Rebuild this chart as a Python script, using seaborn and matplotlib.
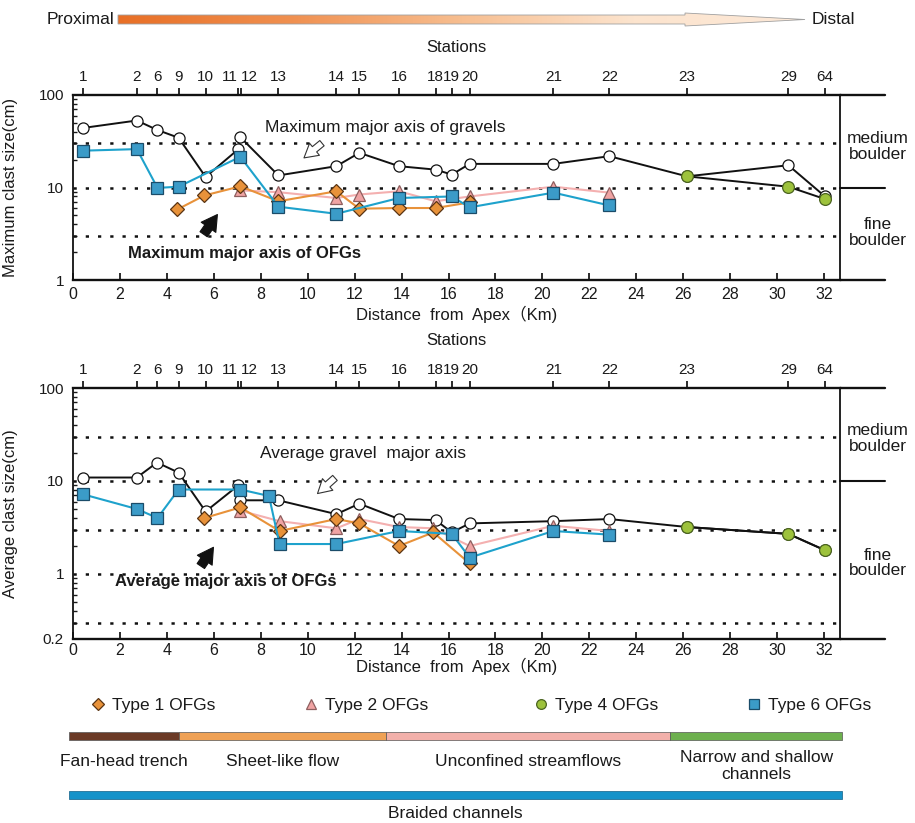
import numpy as np
import pandas as pd
import matplotlib
matplotlib.use("Agg")
import matplotlib.pyplot as plt
import seaborn as sns
from matplotlib import font_manager
from matplotlib.lines import Line2D
from matplotlib.patches import Polygon
from matplotlib.colors import LinearSegmentedColormap
from matplotlib.ticker import FixedLocator, LogLocator, NullFormatter

# ---------------- data ----------------
station_labels = ['1', '2', '6', '9', '10', '11', '12', '13', '14', '15', '16',
                  '18', '19', '20', '21', '22', '23', '29', '64']
station_km = [0.42, 2.72, 3.58, 4.5, 5.65, 7.03, 7.15, 8.75, 11.22, 12.2, 13.89,
              15.45, 16.14, 16.9, 20.47, 22.85, 26.16, 30.48, 32.04]

# Maximum clast size (cm)
max_gravel_km = [0.42, 2.72, 3.58, 4.5, 5.65, 7.05, 7.13, 8.75, 11.22, 12.2, 13.89,
                 15.45, 16.14, 16.9, 20.47, 22.85, 26.16, 30.48, 32.04]
max_gravel = [44, 53, 42, 34.5, 13, 26, 35, 13.5, 17, 23.7, 17,
              15.6, 13.8, 18, 18, 21.8, 13.2, 17.4, 8.0]
max_t1_km = [4.45, 5.6, 7.13, 8.75, 11.22, 12.2, 13.89, 15.45, 16.9]
max_t1 = [5.8, 8.2, 10.3, 7.1, 9.1, 5.9, 6.0, 6.0, 6.9]
max_t2_km = [7.13, 8.75, 11.22, 12.2, 13.89, 15.45, 16.9, 20.47, 22.85]
max_t2 = [9.3, 8.9, 7.7, 8.4, 9.1, 7.1, 8.0, 10.2, 8.8]
max_t4_km = [26.16, 30.48, 32.04]
max_t4 = [13.2, 10.2, 7.5]
max_t6_km = [0.42, 2.72, 3.6, 4.5, 7.13, 8.75, 11.22, 13.89, 16.14, 16.9, 20.47, 22.85]
max_t6 = [25, 26, 9.9, 10.2, 21.5, 6.2, 5.2, 7.7, 8.0, 6.1, 8.8, 6.4]

# Average clast size (cm)
avg_gravel_km = [0.42, 2.72, 3.58, 4.5, 5.65, 7.05, 7.13, 8.75, 11.22, 12.2, 13.89,
                 15.45, 16.14, 16.9, 20.47, 22.85, 26.16, 30.48, 32.04]
avg_gravel = [10.9, 10.9, 15.8, 12.3, 4.7, 9.0, 6.2, 6.2, 4.4, 5.7, 3.9,
              3.8, 2.8, 3.5, 3.7, 3.9, 3.2, 2.7, 1.8]
avg_t1_km = [5.6, 7.13, 8.8, 11.22, 12.2, 13.89, 15.35, 16.9]
avg_t1 = [4.0, 5.2, 2.9, 3.9, 3.5, 2.0, 2.8, 1.3]
avg_t2_km = [7.13, 8.8, 11.22, 12.2, 13.89, 15.35, 16.9, 20.47, 22.85]
avg_t2 = [4.8, 3.7, 3.1, 3.9, 3.2, 3.1, 2.0, 3.3, 2.9]
avg_t4_km = [26.16, 30.48, 32.04]
avg_t4 = [3.2, 2.7, 1.8]
avg_t6_km = [0.42, 2.72, 3.6, 4.5, 7.13, 8.35, 8.8, 11.22, 13.89, 16.14, 16.9, 20.47, 22.85]
avg_t6 = [7.2, 5.0, 4.0, 8.1, 8.1, 6.9, 2.1, 2.1, 2.9, 2.7, 1.5, 2.9, 2.65]

# depositional zones (km)
zone_names = ['Fan-head trench', 'Sheet-like flow', 'Unconfined streamflows',
              'Narrow and shallow\nchannels']
zone_start = [-0.17, 4.51, 13.32, 25.45]
zone_end = [4.51, 13.32, 25.45, 32.77]
zone_colors = ['#6B3A26', '#EFA155', '#F2B0AA', '#6DB04E']
braided_start, braided_end = -0.17, 32.77

legend_labels = ['Type 1 OFGs', 'Type 2 OFGs', 'Type 4 OFGs', 'Type 6 OFGs']

# ---------------- style ----------------
sns.set_theme(style='white')
names = {f.name for f in font_manager.fontManager.ttflist}
base = 'Liberation Sans' if 'Liberation Sans' in names else 'DejaVu Sans'
plt.rcParams['font.family'] = [base, 'Noto Sans CJK SC', 'DejaVu Sans']
plt.rcParams['text.color'] = '#1a1a1a'
plt.rcParams['axes.labelcolor'] = '#1a1a1a'
plt.rcParams['xtick.color'] = '#1a1a1a'
plt.rcParams['ytick.color'] = '#1a1a1a'

C_T1, C_T1E = '#E8923A', '#5A3413'
C_T2, C_T2E, C_T2L = '#F0A3A3', '#8E5F5F', '#F4B0B0'
C_T4, C_T4E = '#9DC23C', '#4B6420'
C_T6, C_T6E, C_T6L = '#3B9BC8', '#1B4C69', '#1EA2CC'

fig = plt.figure(figsize=(9.15, 8.23), dpi=100)
W, H = 915, 823
left_px, right_px = 73, 840
XMAX = 32.68


def fig_axes(top_px, bottom_px):
    return fig.add_axes([left_px / W, 1 - bottom_px / H,
                         (right_px - left_px) / W, (bottom_px - top_px) / H])


def series(ax, km, val, color, marker, mfc, mec, ms, z, lw=1.5):
    df = pd.DataFrame({'km': km, 'v': val})
    sns.lineplot(data=df, x='km', y='v', ax=ax, sort=False, estimator=None,
                 color=color, lw=lw, marker=marker, markersize=ms,
                 markerfacecolor=mfc, markeredgecolor=mec, markeredgewidth=0.9,
                 legend=False, zorder=z)


def style_axes(ax, ylim, yticks, ylabels, ylabel, dotted, xpad, xlabelpad, stpad):
    ax.set_yscale('log')
    ax.set_xlim(0, XMAX)
    ax.set_ylim(*ylim)
    for y in dotted:
        ax.axhline(y, color='#111111', lw=1.8, ls=(0, (1.3, 3.6)), zorder=1)
    ax.yaxis.set_major_locator(FixedLocator(yticks))
    ax.set_yticklabels(ylabels)
    ax.yaxis.set_minor_locator(LogLocator(base=10, subs=np.arange(2, 10)))
    ax.yaxis.set_minor_formatter(NullFormatter())
    ax.set_xticks(np.arange(0, 33, 2))
    ax.tick_params(axis='y', which='major', direction='out', length=5, width=1.3,
                   pad=1.5, labelsize=11)
    ax.tick_params(axis='y', which='minor', direction='in', length=3, width=1.0, left=True)
    ax.tick_params(axis='x', which='major', direction='in', length=5, width=1.3,
                   pad=xpad, labelsize=11.5, top=False, bottom=True)
    for s in ['left', 'right']:
        ax.spines[s].set_linewidth(1.3)
        ax.spines[s].set_color('#111111')
    for s in ['top', 'bottom']:
        ax.spines[s].set_linewidth(1.7)
        ax.spines[s].set_color('#111111')
    ax.set_ylabel(ylabel, fontsize=12)
    ax.yaxis.set_label_coords(-0.072, 0.5)
    ax.set_xlabel('Distance  from  Apex（Km)', fontsize=12, labelpad=xlabelpad)
    # extension of top/bottom frame and 10 cm boundary to the right
    ax.plot([1, 1.059], [1, 1], transform=ax.transAxes, clip_on=False, color='#111111', lw=1.7)
    ax.plot([1, 1.059], [0, 0], transform=ax.transAxes, clip_on=False, color='#111111', lw=1.7)
    ax.plot([1, 1.059], [10, 10], transform=ax.get_yaxis_transform(), clip_on=False,
            color='#111111', lw=1.5)
    # stations axis
    sec = ax.secondary_xaxis('top')
    sec.set_xticks(station_km)
    sec.set_xticklabels(station_labels)
    sec.tick_params(direction='out', length=5, width=1.3, pad=3, labelsize=11)
    sec.spines['top'].set_visible(False)
    for lab, name in zip(sec.get_xticklabels(), station_labels):
        if name == '11':
            lab.set_ha('right')
        elif name == '12':
            lab.set_ha('left')
    sec.set_xlabel('Stations', fontsize=12, labelpad=stpad)
    ax.set_facecolor('white')
    return sec


def draw_panel(ax, g_km, g, t1_km, t1, t2_km, t2, t4_km, t4, t6_km, t6):
    series(ax, g_km, g, '#111111', 'o', 'white', '#111111', 8, 3, lw=1.4)
    series(ax, t4_km, t4, '#111111', 'o', C_T4, C_T4E, 8.5, 7, lw=1.4)
    series(ax, t2_km, t2, C_T2L, '^', C_T2, C_T2E, 8, 4)
    series(ax, t1_km, t1, C_T1, 'D', C_T1, C_T1E, 7, 5)
    series(ax, t6_km, t6, C_T6L, 's', C_T6, C_T6E, 8, 6)


OPEN_ARROW = dict(arrowstyle='simple,head_width=0.8,head_length=0.7,tail_width=0.35',
                  fc='white', ec='#333333', lw=0.8, mutation_scale=14)
BLACK_ARROW = dict(arrowstyle='simple,head_width=0.8,head_length=0.7,tail_width=0.4',
                   fc='#111111', ec='#111111', lw=0.8, mutation_scale=16)

# ---------------- top panel ----------------
ax1 = fig_axes(95, 280)
style_axes(ax1, (1, 100), [1, 10, 100], ['1', '10', '100'],
           'Maximum clast size(cm)', [3, 10, 30], xpad=5, xlabelpad=3, stpad=13)
draw_panel(ax1, max_gravel_km, max_gravel, max_t1_km, max_t1, max_t2_km, max_t2,
           max_t4_km, max_t4, max_t6_km, max_t6)
ax1.text(8.2, 45, 'Maximum major axis of gravels', fontsize=12.5, ha='left', va='center')
ax1.text(2.34, 1.94, 'Maximum major axis of OFGs', fontsize=12, fontweight='bold',
         ha='left', va='center')
ax1.annotate('', xy=(9.75, 20.0), xytext=(10.7, 31.5), arrowprops=OPEN_ARROW)
ax1.annotate('', xy=(6.22, 5.4), xytext=(5.5, 2.95), arrowprops=BLACK_ARROW)
ax1.text(1.0495, 27.7, 'medium\nboulder', transform=ax1.get_yaxis_transform(),
         ha='center', va='center', fontsize=12.5, linespacing=1.05)
ax1.text(1.0495, 3.26, 'fine\nboulder', transform=ax1.get_yaxis_transform(),
         ha='center', va='center', fontsize=12.5, linespacing=1.05)

# ---------------- bottom panel ----------------
ax2 = fig_axes(388, 639)
style_axes(ax2, (0.2, 100), [0.2, 1, 10, 100], ['0.2', '1', '10', '100'],
           'Average clast size(cm)', [0.3, 1, 3, 10, 30], xpad=3, xlabelpad=0, stpad=13)
draw_panel(ax2, avg_gravel_km, avg_gravel, avg_t1_km, avg_t1, avg_t2_km, avg_t2,
           avg_t4_km, avg_t4, avg_t6_km, avg_t6)
ax2.text(7.97, 19.8, 'Average gravel  major axis', fontsize=12.5, ha='left', va='center')
ax2.text(1.79, 0.84, 'Average major axis of OFGs', fontsize=12, fontweight='bold',
         ha='left', va='center')
ax2.annotate('', xy=(10.33, 7.0), xytext=(11.25, 11.3), arrowprops=OPEN_ARROW)
ax2.annotate('', xy=(6.05, 2.05), xytext=(5.38, 1.15), arrowprops=BLACK_ARROW)
ax2.text(1.0495, 28.8, 'medium\nboulder', transform=ax2.get_yaxis_transform(),
         ha='center', va='center', fontsize=12.5, linespacing=1.05)
ax2.text(1.0495, 1.31, 'fine\nboulder', transform=ax2.get_yaxis_transform(),
         ha='center', va='center', fontsize=12.5, linespacing=1.05)

# ---------------- legend (four entries spaced as in the original) ----------------
handles = [
    Line2D([], [], ls='none', marker='D', ms=6, mfc=C_T1, mec=C_T1E, mew=0.9),
    Line2D([], [], ls='none', marker='^', ms=6.5, mfc=C_T2, mec=C_T2E, mew=0.9),
    Line2D([], [], ls='none', marker='o', ms=7, mfc=C_T4, mec=C_T4E, mew=0.9),
    Line2D([], [], ls='none', marker='s', ms=6.5, mfc=C_T6, mec=C_T6E, mew=0.9),
]
legend_x_px = [90, 303, 533, 746]
for h, lab, xp in zip(handles, legend_labels, legend_x_px):
    fig.legend([h], [lab], loc='center left', bbox_to_anchor=(xp / W, 1 - 705 / H),
               frameon=False, fontsize=12.5, handlelength=0.9, handletextpad=0.35,
               borderpad=0, borderaxespad=0)

# ---------------- zone bars ----------------
axb = fig.add_axes([left_px / W, 0, (right_px - left_px) / W, 1 - 720 / H])
axb.set_xlim(0, XMAX)
axb.set_ylim(823, 720)
axb.axis('off')
for s, e, c in zip(zone_start, zone_end, zone_colors):
    axb.broken_barh([(s, e - s)], (732, 8), facecolors=c, edgecolors='#555555',
                    linewidth=0.5, clip_on=False)
for s, e, n in zip(zone_start, zone_end, zone_names):
    axb.text((s + e) / 2, 766 if '\n' in n else 762, n, ha='center', va='center',
             fontsize=12.5, linespacing=1.1, clip_on=False)
axb.broken_barh([(braided_start, braided_end - braided_start)], (791, 8),
                facecolors='#1592C9', edgecolors='#0F5F86', linewidth=0.5, clip_on=False)
axb.text((braided_start + braided_end) / 2, 814, 'Braided channels', ha='center',
         va='center', fontsize=12.5)

# ---------------- proximal / distal arrow ----------------
ax0 = fig.add_axes([0, 0, 1, 1])
ax0.axis('off')
ax0.patch.set_alpha(0)
cmap = LinearSegmentedColormap.from_list('pd', ['#E86F26', '#F09050', '#F7BE90', '#FCE4CE', '#FDE9D8'])
grad = np.linspace(0, 1, 256).reshape(1, -1)
im = ax0.imshow(grad, extent=[118, 805, 27, 12], cmap=cmap, aspect='auto', zorder=1)
verts = [(118, 15), (685, 15), (685, 13), (805, 19.5), (685, 26), (685, 24), (118, 24)]
poly = Polygon(verts, closed=True, fc='none', ec='#A0A0A0', lw=0.6, zorder=2)
ax0.add_patch(poly)
im.set_clip_path(poly)
ax0.set_xlim(0, W)
ax0.set_ylim(H, 0)
ax0.text(114, 19.5, 'Proximal', ha='right', va='center', fontsize=12.5)
ax0.text(812, 19.5, 'Distal', ha='left', va='center', fontsize=12.5)

fig.savefig('out.png', dpi=100, facecolor='white')
